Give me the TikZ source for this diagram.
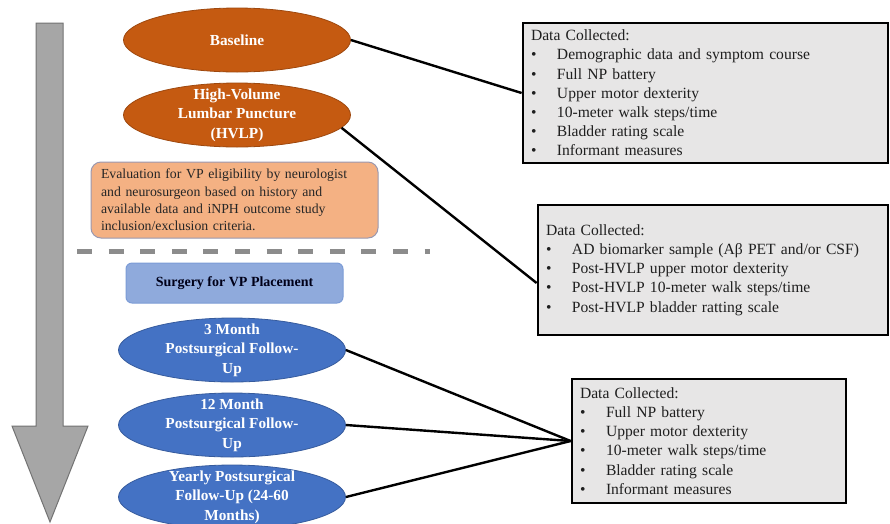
\documentclass[tikz,border=0pt]{standalone}
\usepackage{fontspec}
\setmainfont{Liberation Serif}
\usetikzlibrary{shapes.geometric}
\definecolor{phaseorange}{HTML}{C55A11}
\definecolor{phaseblue}{HTML}{4472C4}
\definecolor{evalfill}{HTML}{F4B183}
\definecolor{evalline}{HTML}{9A98B0}
\definecolor{surgfill}{HTML}{8FAADC}
\definecolor{datafill}{HTML}{E7E6E6}
\newcommand{\blt}{\makebox[26pt][l]{\textbullet}}
\tikzset{
    phase/.style={ellipse, draw=#1!80!black, fill=#1, line width=0.8pt,
        minimum width=227pt, minimum height=64pt, inner sep=0pt},
    phasetext/.style={text=white, align=center, font=\fontsize{15.3}{19.5}\selectfont\bfseries},
    databox/.style={draw=black, line width=2.8pt, fill=datafill, align=left,
        inner xsep=8pt, text width=#1-16pt, minimum width=#1,
        font=\fontsize{15.6}{19.2}\selectfont, text=black!88},
    link/.style={line width=2.4pt, black}
}
\begin{document}
\begin{tikzpicture}[x=1pt, y=-1pt]
    \path[use as bounding box, clip] (0,0) rectangle (890,523);
    \fill[white] (0,0) rectangle (890,523);
    \draw[fill=black!35, draw=black!55, line width=1pt]
        (36,23) -- (63,23) -- (63,426) -- (88,426) -- (50,522) -- (12,426) -- (36,426) -- cycle;

    \node[phase=phaseorange] (base) at (237,40) {};
    \node[phasetext] at (base) {Baseline};
    \node[phase=phaseorange] (hvlp) at (237,115) {};
    \node[phasetext] at (hvlp) {High-Volume\\Lumbar Puncture\\(HVLP)};

    \node[draw=evalline, line width=1pt, fill=evalfill, rounded corners=10pt,
        minimum width=287pt, minimum height=76pt, text width=267pt, align=left,
        font=\fontsize{13.8}{17.2}\selectfont, text=black!85] (eval) at (234.5,200)
        {Evaluation for VP eligibility by neurologist\\and neurosurgeon based on history and\\available data and iNPH outcome study\\inclusion/exclusion criteria.};

    \draw[black!45, line width=5pt, dash pattern=on 15pt off 16.6pt] (77,251) -- (430,251);

    \node[draw=phaseblue!70, line width=1pt, fill=surgfill, rounded corners=6pt,
        minimum width=217pt, minimum height=40pt, text=black!90!blue,
        font=\fontsize{14}{17}\selectfont\bfseries] (surg) at (234.5,283) {Surgery for VP Placement};

    \node[phase=phaseblue] (m3) at (232,350) {};
    \node[phasetext] at (m3) {3 Month\\Postsurgical Follow-\\Up};
    \node[phase=phaseblue] (m12) at (232,425) {};
    \node[phasetext] at (m12) {12 Month\\Postsurgical Follow-\\Up};
    \node[phase=phaseblue] (yearly) at (232,497) {};
    \node[phasetext] at (yearly) {Yearly Postsurgical\\Follow-Up (24-60\\Months)};

    \node[databox=365pt, minimum height=140pt] (box1) at (705.5,93)
        {Data Collected:\\\blt Demographic data and symptom course\\\blt Full NP battery\\\blt Upper motor dexterity\\\blt 10-meter walk steps/time\\\blt Bladder rating scale\\\blt Informant measures};
    \node[databox=350pt, minimum height=130pt] (box2) at (713,270)
        {Data Collected:\\\blt AD biomarker sample (Aβ PET and/or CSF)\\\blt Post-HVLP upper motor dexterity\\\blt Post-HVLP 10-meter walk steps/time\\\blt Post-HVLP bladder ratting scale};
    \node[databox=274pt, minimum height=124pt] (box3) at (709,441)
        {Data Collected:\\\blt Full NP battery\\\blt Upper motor dexterity\\\blt 10-meter walk steps/time\\\blt Bladder rating scale\\\blt Informant measures};

    \draw[link] (base.east) -- (box1.west);
    \draw[link] (hvlp.-7) -- ([yshift=-13pt]box2.west);
    \draw[link] (m3.east) -- (box3.west);
    \draw[link] (m12.east) -- (box3.west);
    \draw[link] (yearly.east) -- (box3.west);
\end{tikzpicture}
\end{document}
